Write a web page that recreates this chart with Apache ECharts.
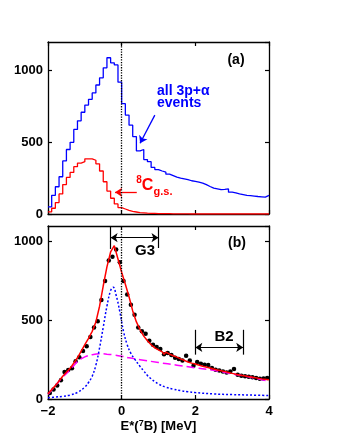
<!DOCTYPE html>
<html>
<head>
<meta charset="utf-8">
<script src="https://cdn.jsdelivr.net/npm/echarts@6/dist/echarts.min.js"></script>
<style>
  html, body { margin: 0; padding: 0; background: #fff; }
  #chart { width: 340px; height: 440px; }
</style>
</head>
<body>
<div id="chart"></div>
<script>
// top panel: histograms, bins of 0.1 MeV starting at -2
const binStart = -2;
const binWidth = 0.1;
const allEvents = [50, 130, 190, 260, 370, 450, 500, 590, 650, 710,
  760, 800, 845, 900, 950, 1020, 1090, 1055, 1040, 920,
  770, 690, 620, 540, 440, 450, 380, 365, 325, 310,
  300, 292, 278, 268, 258, 250, 245, 240, 232, 228,
  222, 216, 205, 192, 180, 175, 170, 172, 175, 152,
  147, 140, 135, 130, 128, 125, 122, 120, 118, 130];
const gsEvents = [15, 40, 80, 140, 205, 255, 290, 330, 355, 365,
  385, 385, 375, 350, 300, 225, 160, 110, 70, 45,
  35, 25, 18, 14, 10, 8, 6, 5, 4, 3,
  3, 2, 2, 1, 1, 1, 1, 1, 0, 0,
  0, 0, 0, 0, 0, 0, 0, 0, 0, 0,
  0, 0, 0, 0, 0, 0, 0, 0, 0, 0];

// bottom panel: data points (bin centres) and fit curves
const pointCounts = [38, 60, 86, 120, 172, 185, 195, 240, 265, 305,
  335, 395, 455, 495, 630, 750, 880, 905, 950, 870,
  750, 665, 600, 535, 455, 430, 415, 370, 345, 330,
  318, 285, 292, 280, 262, 255, 245, 275, 245, 211,
  235, 224, 218, 216, 197, 186, 182, 175, 169, 175,
  190, 154, 148, 144, 141, 139, 133, 128, 130, 133];

const fitE = [-2.0, -1.8, -1.6, -1.4, -1.2, -1.0, -0.9, -0.8, -0.7, -0.6,
  -0.5, -0.4, -0.3, -0.2, -0.1, 0.0, 0.1, 0.2, 0.3, 0.4,
  0.5, 0.6, 0.7, 0.8, 0.9, 1.0, 1.1, 1.15, 1.2, 1.3,
  1.4, 1.5, 1.6, 1.7, 1.8, 1.9, 2.0, 2.2, 2.4, 2.6,
  2.8, 3.0, 3.2, 3.4, 3.6, 3.8, 4.0];
const fitY = [34, 85, 145, 195, 262, 345, 385, 430, 490, 590,
  720, 840, 935, 975, 890, 806, 730, 650, 560, 490,
  440, 400, 370, 345, 325, 312, 300, 285, 298, 285,
  275, 266, 255, 246, 235, 228, 222, 208, 197, 185,
  175, 163, 153, 145, 136, 128, 122];

const resE = [-2.0, -1.8, -1.6, -1.4, -1.2, -1.0, -0.9, -0.8, -0.7, -0.6,
  -0.5, -0.4, -0.3, -0.23, -0.15, -0.05, 0.05, 0.15, 0.25, 0.35,
  0.5, 0.6, 0.7, 0.8, 0.9, 1.0, 1.2, 1.4, 1.6, 1.8,
  2.0, 2.5, 3.0, 3.5, 4.0];
const resY = [8, 12, 17, 25, 42, 76, 105, 145, 215, 325,
  457, 590, 690, 711, 660, 555, 430, 345, 290, 255,
  207, 178, 150, 128, 110, 95, 75, 63, 53, 46,
  41, 32, 28, 25, 22];

const bgE = [-2.0, -1.8, -1.6, -1.4, -1.2, -1.0, -0.8, -0.6, -0.4, -0.2,
  0.0, 0.2, 0.5, 1.0, 1.5, 2.0, 2.5, 3.0, 3.5, 4.0];
const bgY = [30, 85, 140, 185, 238, 268, 282, 288, 285, 280,
  272, 262, 250, 232, 215, 198, 182, 160, 138, 112];

// annotation ranges
const g3Range = [-0.3, 1.0];
const b2Range = [2.0, 3.3];

const FONT = '"Liberation Sans", Arial, Helvetica, sans-serif';

// histogram -> step line points (left edges + closing edge)
const toSteps = vals => {
  const pts = vals.map((v, i) => [binStart + i * binWidth, v]);
  pts.push([binStart + vals.length * binWidth, vals[vals.length - 1]]);
  return pts;
};
const pair = (xs, ys) => xs.map((x, i) => [x, ys[i]]);

const axisLine = { show: true, onZero: false, lineStyle: { color: '#000', width: 1.3 } };
const axisTick = { show: true, inside: true, length: 4, lineStyle: { color: '#000', width: 1.2 } };
const labelFont = { color: '#000', fontWeight: 'bold', fontSize: 13, fontFamily: FONT };

/**
 * x axis of one panel
 */
const makeX = (gridIndex, position, withLabels) => ({
  type: 'value',
  gridIndex,
  position,
  min: -2,
  max: 4,
  interval: 2,
  axisLine,
  axisTick,
  splitLine: { show: false },
  axisLabel: withLabels ? {
    ...labelFont,
    margin: 6,
    formatter: v => (v < 0 ? '\u2212' + Math.abs(v) : String(v))
  } : { show: false },
  name: withLabels ? '{a|E*(}{s|7}{a|B) [MeV]}' : '',
  nameLocation: 'middle',
  nameGap: 18,
  nameTextStyle: {
    rich: {
      a: { ...labelFont, fontSize: 13, lineHeight: 16 },
      s: { ...labelFont, fontSize: 9, lineHeight: 9, verticalAlign: 'top' }
    }
  }
});

/**
 * y axis of one panel
 */
const makeY = (gridIndex, position, max, withLabels) => ({
  type: 'value',
  gridIndex,
  position,
  min: 0,
  max,
  interval: 500,
  axisLine,
  axisTick,
  splitLine: { show: false },
  axisLabel: withLabels ? { ...labelFont, margin: 5, showMaxLabel: false, formatter: v => String(v) } : { show: false },
  name: withLabels ? 'Counts' : '',
  nameLocation: 'middle',
  nameRotate: 90,
  nameGap: 39,
  nameTextStyle: { ...labelFont, fontSize: 15 }
});

const chart = echarts.init(document.getElementById('chart'));

const option = {
  animation: false,
  backgroundColor: '#fff',
  grid: [
    { left: 48, top: 42, width: 221, height: 172, containLabel: false, outerBoundsMode: 'none' },
    { left: 48, top: 226, width: 221, height: 173, containLabel: false, outerBoundsMode: 'none' }
  ],
  xAxis: [
    makeX(0, 'bottom', false),
    makeX(0, 'top', false),
    makeX(1, 'bottom', true),
    makeX(1, 'top', false)
  ],
  yAxis: [
    makeY(0, 'left', 1200, true),
    makeY(0, 'right', 1200, false),
    makeY(1, 'left', 1100, true),
    makeY(1, 'right', 1100, false)
  ],
  series: [
    {
      name: 'all 3p+α events',
      type: 'line',
      xAxisIndex: 0,
      yAxisIndex: 0,
      step: 'end',
      symbol: 'none',
      data: toSteps(allEvents),
      lineStyle: { color: '#0000ff', width: 1.3 },
      markLine: {
        silent: true,
        symbol: ['none', 'arrow'],
        symbolSize: 7,
        label: { show: false },
        lineStyle: { color: '#0000ff', width: 1.3, type: 'solid' },
        data: [[{ coord: [0.9, 690] }, { coord: [0.5, 494] }]]
      }
    },
    {
      name: '8C g.s.',
      type: 'line',
      xAxisIndex: 0,
      yAxisIndex: 0,
      step: 'end',
      symbol: 'none',
      data: toSteps(gsEvents),
      lineStyle: { color: '#ff0000', width: 1.3 },
      markLine: {
        silent: true,
        symbol: ['none', 'arrow'],
        symbolSize: 7,
        label: { show: false },
        lineStyle: { color: '#ff0000', width: 1.3, type: 'solid' },
        data: [[{ coord: [0.41, 151] }, { coord: [-0.18, 151] }]]
      }
    },
    {
      // E = 0 marker in the top panel
      type: 'line',
      xAxisIndex: 1,
      yAxisIndex: 1,
      symbol: 'none',
      data: [[0, 0]],
      lineStyle: { width: 0 },
      markLine: {
        silent: true,
        symbol: 'none',
        label: { show: false },
        lineStyle: { color: '#000', width: 1.3, type: 'dotted' },
        data: [{ xAxis: 0 }]
      }
    },
    {
      name: 'background',
      type: 'line',
      xAxisIndex: 2,
      yAxisIndex: 2,
      symbol: 'none',
      smooth: 0.4,
      data: pair(bgE, bgY),
      lineStyle: { color: '#ff00ff', width: 1.5, type: [8, 4] },
      markLine: {
        silent: true,
        symbol: ['arrow', 'arrow'],
        symbolSize: 7,
        label: { show: false },
        lineStyle: { color: '#000', width: 1.2, type: 'solid' },
        data: [
          [{ coord: [g3Range[0], 1026] }, { coord: [g3Range[1], 1026] }],
          [{ coord: [b2Range[0], 328] }, { coord: [b2Range[1], 328] }]
        ]
      }
    },
    {
      name: 'resonance',
      type: 'line',
      xAxisIndex: 2,
      yAxisIndex: 2,
      symbol: 'none',
      smooth: 0.4,
      data: pair(resE, resY),
      lineStyle: { color: '#0000ff', width: 1.5, type: [2, 2] },
      markLine: {
        silent: true,
        symbol: 'none',
        label: { show: false },
        lineStyle: { color: '#000', width: 1.2, type: 'solid' },
        data: [
          [{ coord: [g3Range[0], 1100] }, { coord: [g3Range[0], 954] }],
          [{ coord: [g3Range[1], 1100] }, { coord: [g3Range[1], 960] }],
          [{ coord: [b2Range[0], 440] }, { coord: [b2Range[0], 282] }],
          [{ coord: [b2Range[1], 440] }, { coord: [b2Range[1], 282] }]
        ]
      }
    },
    {
      name: 'fit',
      type: 'line',
      xAxisIndex: 2,
      yAxisIndex: 2,
      symbol: 'none',
      data: pair(fitE, fitY),
      lineStyle: { color: '#ff0000', width: 1.5 }
    },
    {
      name: 'data',
      type: 'scatter',
      xAxisIndex: 2,
      yAxisIndex: 2,
      symbol: 'circle',
      symbolSize: 4.5,
      itemStyle: { color: '#000', opacity: 1 },
      data: pointCounts.map((v, i) => [binStart + (i + 0.5) * binWidth, v]),
      markLine: {
        silent: true,
        symbol: 'none',
        label: { show: false },
        lineStyle: { color: '#000', width: 1.3, type: 'dotted' },
        data: [{ xAxis: 0 }]
      }
    }
  ],
  graphic: [
    { type: 'text', x: 236, y: 60, style: { text: '(a)', fill: '#000', font: 'bold 14px ' + FONT, align: 'center', verticalAlign: 'middle' } },
    { type: 'text', x: 237, y: 243, style: { text: '(b)', fill: '#000', font: 'bold 14px ' + FONT, align: 'center', verticalAlign: 'middle' } },
    { type: 'text', x: 157, y: 97, style: { text: 'all 3p+α\nevents', fill: '#0000ff', font: 'bold 14px ' + FONT, lineHeight: 12, align: 'left', verticalAlign: 'middle' } },
    { type: 'text', x: 139, y: 180, style: { text: '8', fill: '#ff0000', font: 'bold 10px ' + FONT, align: 'center', verticalAlign: 'middle' } },
    { type: 'text', x: 147.5, y: 186, style: { text: 'C', fill: '#ff0000', font: 'bold 16px ' + FONT, align: 'center', verticalAlign: 'middle' } },
    { type: 'text', x: 163, y: 192, style: { text: 'g.s.', fill: '#ff0000', font: 'bold 11px ' + FONT, align: 'center', verticalAlign: 'middle' } },
    { type: 'text', x: 145, y: 251, style: { text: 'G3', fill: '#000', font: 'bold 15px ' + FONT, align: 'center', verticalAlign: 'middle' } },
    { type: 'text', x: 224, y: 337, style: { text: 'B2', fill: '#000', font: 'bold 15px ' + FONT, align: 'center', verticalAlign: 'middle' } }
  ]
};

chart.setOption(option);
</script>
</body>
</html>
